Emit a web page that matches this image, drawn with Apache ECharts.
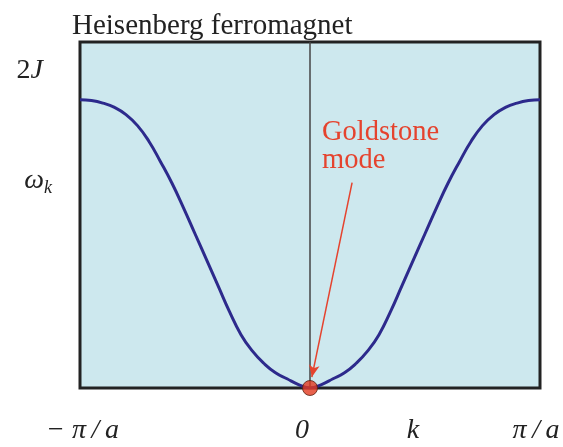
<!DOCTYPE html>
<html>
<head>
<meta charset="utf-8">
<script src="https://cdn.jsdelivr.net/npm/echarts@6/dist/echarts.min.js"></script>
<style>html,body{margin:0;padding:0;background:#fff;}#c{width:563px;height:447px;}</style>
</head>
<body>
<div id="c"></div>
<script>
// k in units of pi/a, omega in units of 2J
var kValues = [-1.0,-0.95,-0.9,-0.85,-0.8,-0.75,-0.7,-0.65,-0.6,-0.55,-0.5,-0.45,-0.4,-0.35,-0.3,-0.25,-0.2,-0.15,-0.1,-0.05,0,
               0.05,0.1,0.15,0.2,0.25,0.3,0.35,0.4,0.45,0.5,0.55,0.6,0.65,0.7,0.75,0.8,0.85,0.9,0.95,1.0];
var omegaValues = [1.0,0.997,0.988,0.973,0.948,0.91,0.855,0.785,0.71,0.625,0.535,0.445,0.355,0.265,0.185,0.128,0.085,0.053,0.032,0.012,0,
                   0.012,0.032,0.053,0.085,0.128,0.185,0.265,0.355,0.445,0.535,0.625,0.71,0.785,0.855,0.91,0.948,0.973,0.988,0.997,1.0];
var goldstonePoint = [[0, 0]];
var arrowStart = [0.183, 0.712];
var arrowEnd = [0.008, 0.038];
var xTickLabels = ['− π\u2009/\u2009a', '0', 'k', 'π\u2009/\u2009a'];
var xTickPositions = [-0.989, -0.035, 0.448, 0.983];
var yTickLabels = ['2J', 'ω_k'];
var yTickPositions = [1.10, 0.72];
var titleText = 'Heisenberg ferromagnet';
var annotationLines = ['Goldstone', 'mode'];
var annotationPos = [0.052, 0.935];

var chart = echarts.init(document.getElementById('c'), null, {renderer: 'canvas'});
var curve = kValues.map(function (k, i) { return [k, omegaValues[i]]; });
var serif = '"Liberation Serif", "DejaVu Serif", serif';

chart.setOption({
  animation: false,
  grid: {left: 80, right: 23, top: 42, bottom: 59, show: true, backgroundColor: '#cde8ee', borderColor: '#222', borderWidth: 3, z: 0},
  xAxis: {type: 'value', min: -1, max: 1, axisLine: {show: false}, axisTick: {show: false}, axisLabel: {show: false}, splitLine: {show: false}},
  yAxis: {type: 'value', min: 0, max: 1.2, axisLine: {show: false}, axisTick: {show: false}, axisLabel: {show: false}, splitLine: {show: false}},
  series: [
    {
      type: 'line', data: curve, smooth: 0.5, symbol: 'none', z: 3,
      lineStyle: {color: '#2d2a8c', width: 3},
      markLine: {
        silent: true, symbol: 'none', label: {show: false},
        lineStyle: {color: '#444', width: 1.5, type: 'solid'},
        data: [{xAxis: 0}]
      }
    },
    {
      type: 'line', data: [], z: 4,
      markLine: {
        silent: true, symbol: ['none', 'arrow'], symbolSize: [8, 12], label: {show: false},
        lineStyle: {color: '#e5432e', width: 1.5, type: 'solid'},
        data: [[{coord: arrowStart}, {coord: arrowEnd}]]
      }
    },
    {
      type: 'scatter', data: goldstonePoint, symbolSize: 15, z: 5,
      itemStyle: {color: '#e23a1f', borderColor: '#5a2010', borderWidth: 1}
    }
  ]
});

function px(p) { return chart.convertToPixel({gridIndex: 0}, p); }
var g = [];
var t0 = px([-1, 1.2]);
g.push({type: 'text', left: t0[0] - 8, top: 12, style: {text: titleText, font: '29px ' + serif, fill: '#222'}});
xTickLabels.forEach(function (lab, i) {
  var p = px([xTickPositions[i], 0]);
  g.push({type: 'text', x: p[0], y: p[1] + 43, style: {text: lab, font: 'italic 28px ' + serif, fill: '#222', align: 'center', verticalAlign: 'middle'}});
});
yTickLabels.forEach(function (lab, i) {
  var p = px([-1, yTickPositions[i]]);
  var txt, dx;
  if (lab === '2J') {
    txt = '{n|2}{i|J}'; dx = 37;
  } else {
    txt = '{i|ω}{s|k}'; dx = 28;
  }
  g.push({type: 'text', x: p[0] - dx, y: p[1], style: {
    text: txt, align: 'right', verticalAlign: 'middle', fill: '#222',
    rich: {
      n: {font: '28px ' + serif, fill: '#222'},
      i: {font: 'italic 28px ' + serif, fill: '#222'},
      s: {font: 'italic 18px ' + serif, fill: '#222', padding: [15, 0, 0, 0]}
    }
  }});
});
var a = px(annotationPos);
g.push({type: 'text', x: a[0], y: a[1], style: {text: annotationLines.join('\n'), font: '28.5px ' + serif, lineHeight: 28, fill: '#e5432e', align: 'left', verticalAlign: 'top'}});
chart.setOption({graphic: g});
</script>
</body>
</html>
